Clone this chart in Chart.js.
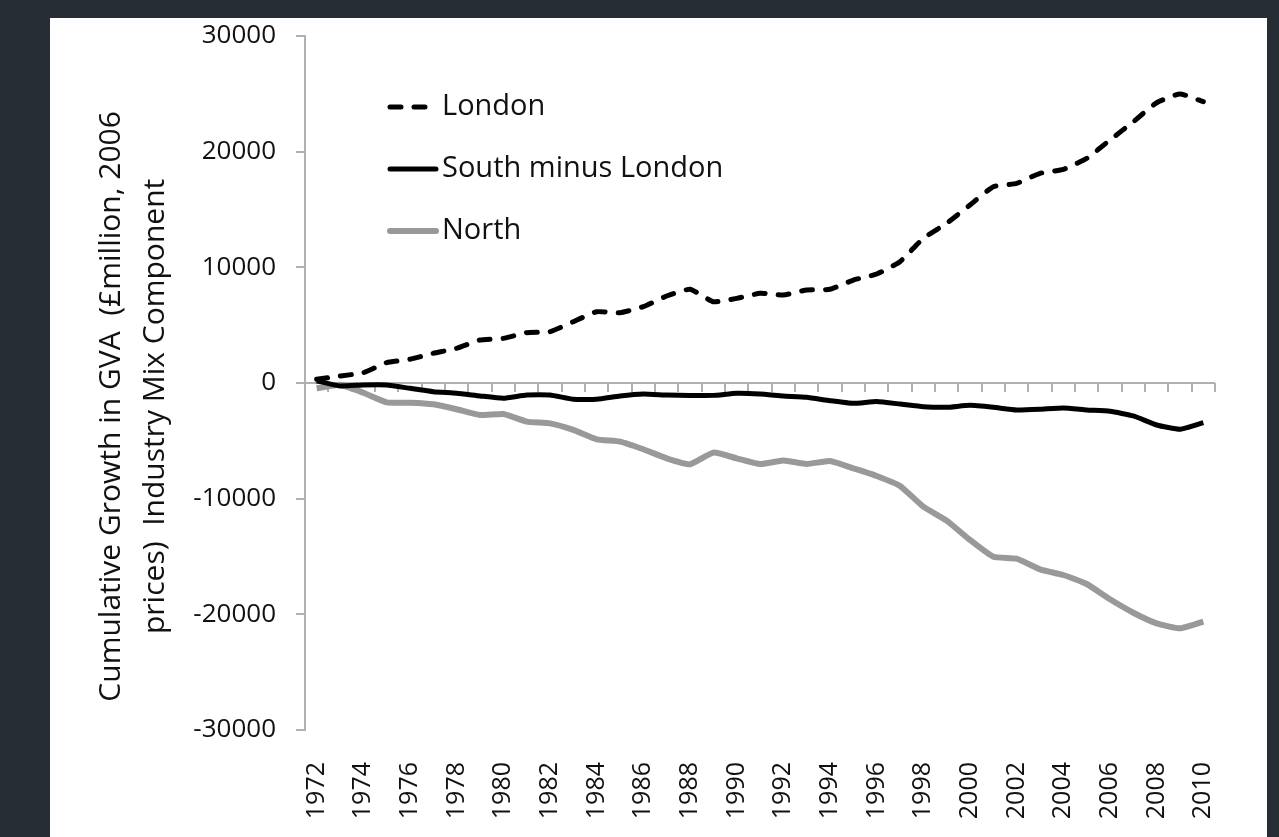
<!DOCTYPE html>
<html>
<head>
<meta charset="utf-8">
<script src="https://cdn.jsdelivr.net/npm/chart.js@4.4.0/dist/chart.umd.min.js"></script>
<style>
  body { margin: 0; background: #272d34; }
  #wrap { position: absolute; left: 50px; top: 18px; width: 1217px; height: 819px; background: #fff; }
</style>
</head>
<body>
<div id="wrap"><canvas id="chart"></canvas></div>
<script>
const years = [1972, 1973, 1974, 1975, 1976, 1977, 1978, 1979, 1980, 1981,
  1982, 1983, 1984, 1985, 1986, 1987, 1988, 1989, 1990, 1991,
  1992, 1993, 1994, 1995, 1996, 1997, 1998, 1999, 2000, 2001,
  2002, 2003, 2004, 2005, 2006, 2007, 2008, 2009, 2010];

const london = [320, 600, 890, 1760, 2050, 2570, 3000, 3720, 3860, 4350,
  4440, 5300, 6160, 6080, 6600, 7520, 8100, 7030, 7320, 7750,
  7610, 8040, 8100, 8900, 9420, 10490, 12510, 13810, 15390, 16970,
  17260, 18130, 18470, 19420, 21010, 22590, 24230, 24990, 24320];

const southMinusLondon = [200, -250, -170, -170, -460, -750, -890, -1120, -1320, -1040,
  -1040, -1410, -1410, -1120, -950, -1040, -1070, -1070, -890, -950,
  -1120, -1240, -1530, -1760, -1610, -1820, -2050, -2100, -1930, -2100,
  -2330, -2270, -2160, -2330, -2450, -2850, -3630, -4000, -3430];

const north = [-460, -150, -840, -1670, -1700, -1840, -2270, -2770, -2680, -3340,
  -3490, -4060, -4870, -5070, -5730, -6510, -7030, -6020, -6510, -7010,
  -6710, -7000, -6740, -7380, -8040, -8900, -10690, -11900, -13570, -15020,
  -15190, -16110, -16600, -17380, -18700, -19860, -20780, -21210, -20640];

const yTicks = [-30000, -20000, -10000, 0, 10000, 20000, 30000];

// trailing spaces push the title a little below the axis centre, as in the original
const yTitle = ["Cumulative Growth in GVA  (\u00a3million, 2006      ", "prices)  Industry Mix Component      "];

const axisGrey = "#b0b0b0";
const fontName = "'Open Sans', sans-serif";

// Excel-like horizontal axis at y = 0 with tick marks between the categories
const zeroAxis = {
  id: "zeroAxis",
  beforeDatasetsDraw(chart) {
    const { ctx, chartArea, scales } = chart;
    const y0 = Math.round(scales.y.getPixelForValue(0));
    ctx.save();
    ctx.strokeStyle = axisGrey;
    ctx.lineWidth = 2;
    ctx.beginPath();
    ctx.moveTo(chartArea.left, y0);
    ctx.lineTo(chartArea.right, y0);
    for (let i = 0; i <= years.length; i++) {
      const x = Math.round(scales.x.getPixelForValue(i - 0.5));
      ctx.moveTo(x, y0);
      ctx.lineTo(x, y0 + 9);
    }
    ctx.stroke();
    ctx.restore();
  }
};

// legend drawn inside the plot, top left
const insideLegend = {
  id: "insideLegend",
  afterDraw(chart) {
    const { ctx, chartArea } = chart;
    const x0 = chartArea.left + 83;
    ctx.save();
    ctx.font = "29px " + fontName;
    ctx.textBaseline = "middle";
    ctx.fillStyle = "#111";
    chart.data.datasets.forEach((ds, i) => {
      const y = chartArea.top + 71 + i * 62;
      ctx.beginPath();
      ctx.strokeStyle = ds.borderColor;
      ctx.lineWidth = ds.borderWidth;
      ctx.lineCap = "round";
      ctx.setLineDash(ds.borderDash || []);
      ctx.moveTo(x0 + 2, y);
      ctx.lineTo(x0 + 48, y);
      ctx.stroke();
      ctx.setLineDash([]);
      ctx.fillText(ds.label, x0 + 54, y);
    });
    ctx.restore();
  }
};

new Chart(document.getElementById("chart"), {
  type: "line",
  data: {
    labels: years,
    datasets: [
      {
        label: "London",
        data: london,
        borderColor: "#000",
        borderWidth: 5,
        borderDash: [11, 13],
        borderCapStyle: "round",
        pointRadius: 0,
        tension: 0.15
      },
      {
        label: "South minus London",
        data: southMinusLondon,
        borderColor: "#000",
        borderWidth: 5,
        pointRadius: 0,
        tension: 0.15
      },
      {
        label: "North",
        data: north,
        borderColor: "#999999",
        borderWidth: 6,
        pointRadius: 0,
        tension: 0.15
      }
    ]
  },
  options: {
    responsive: true,
    maintainAspectRatio: false,
    animation: false,
    layout: { padding: { left: 20, right: 52, top: 18, bottom: 17 } },
    plugins: {
      legend: { display: false },
      tooltip: { enabled: false }
    },
    scales: {
      x: {
        offset: true,
        afterFit: (scale) => { scale.height = 90; },
        grid: { display: false, drawTicks: false },
        border: { display: false },
        ticks: {
          autoSkip: false,
          minRotation: 90,
          maxRotation: 90,
          padding: 32,
          color: "#111",
          font: { family: fontName, size: 25 },
          callback: function (value, index) {
            return index % 2 === 0 ? String(years[index]) : "";
          }
        }
      },
      y: {
        min: -30000,
        max: 30000,
        afterBuildTicks: (scale) => { scale.ticks = yTicks.map(v => ({ value: v })); },
        afterFit: (scale) => { scale.width = 235; },
        // long tick length keeps the labels clear of the axis; the dash shows only the 9px next to it
        grid: {
          drawOnChartArea: false, drawTicks: true, tickLength: 29,
          tickColor: axisGrey, lineWidth: 2, tickBorderDash: [0, 20, 9, 20]
        },
        border: { color: axisGrey, width: 2 },
        ticks: {
          padding: 0,
          color: "#111",
          font: { family: fontName, size: 26 },
          callback: (value) => String(value)
        },
        title: {
          display: true,
          text: yTitle,
          color: "#111",
          padding: { top: 20, bottom: 0 },
          font: { family: fontName, size: 30, lineHeight: 1.45 }
        }
      }
    }
  },
  plugins: [zeroAxis, insideLegend]
});
</script>
</body>
</html>
